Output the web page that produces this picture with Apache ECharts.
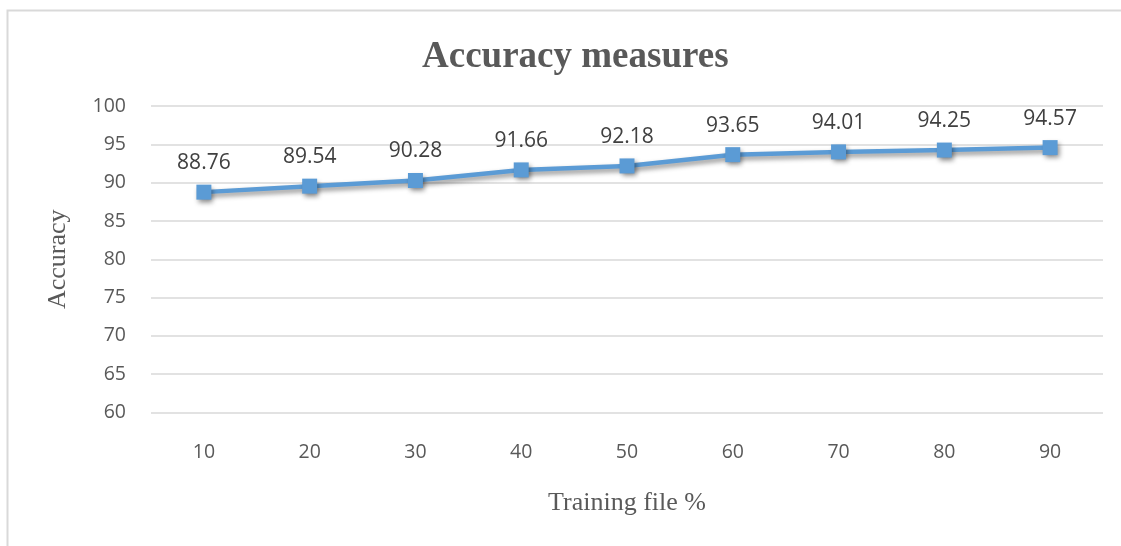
<!DOCTYPE html>
<html><head><meta charset="utf-8">
<script src="https://cdn.jsdelivr.net/npm/echarts@6/dist/echarts.min.js"></script>
<style>html,body{margin:0;padding:0;background:#fff}#c{width:1121px;height:546px}</style>
</head><body><div id="c"></div>
<script>
var categories = ['10','20','30','40','50','60','70','80','90'];
var accuracy = [88.76, 89.54, 90.28, 91.66, 92.18, 93.65, 94.01, 94.25, 94.57];
var chart = echarts.init(document.getElementById('c'));
chart.setOption({
  animation: false,
  graphic: [{type:'rect', shape:{x:7.5,y:10.5,width:1140,height:560}, style:{fill:'none', stroke:'#d9d9d9', lineWidth:2}, silent:true}],
  title: {text:'Accuracy measures', left:417, top:34, textStyle:{fontFamily:'Liberation Serif', fontWeight:'bold', fontSize:37, color:'#595959'}},
  grid: {left:151, right:18, top:106, bottom:133.5},
  xAxis: {type:'category', data:categories, boundaryGap:true,
    name:'Training file %', nameLocation:'middle', nameGap:78,
    nameTextStyle:{fontFamily:'Liberation Serif', fontSize:26, color:'#595959'},
    axisLine:{show:false}, axisTick:{show:false},
    axisLabel:{margin:30, fontFamily:'Open Sans', fontSize:19.5, color:'#595959'}},
  yAxis: {type:'value', min:60, max:100, interval:5,
    name:'Accuracy', nameLocation:'middle', nameGap:80,
    nameTextStyle:{fontFamily:'Liberation Serif', fontSize:26, color:'#595959'},
    axisLine:{show:false}, axisTick:{show:false},
    axisLabel:{margin:25, fontFamily:'Open Sans', fontSize:19.5, color:'#595959'},
    splitLine:{lineStyle:{color:'#d9d9d9', width:1.5}}},
  series: [{type:'line', data:accuracy, symbol:'rect', symbolSize:15,
    lineStyle:{color:'#5B9BD5', width:4.5, shadowColor:'rgba(0,0,0,0.45)', shadowBlur:5, shadowOffsetX:2, shadowOffsetY:3},
    itemStyle:{color:'#5B9BD5', shadowColor:'rgba(0,0,0,0.45)', shadowBlur:5, shadowOffsetX:2, shadowOffsetY:3},
    label:{show:true, position:'top', distance:11, fontFamily:'Open Sans', fontSize:21, color:'#404040', formatter:function(p){return p.value.toFixed(2);}}}]
});
</script></body></html>
